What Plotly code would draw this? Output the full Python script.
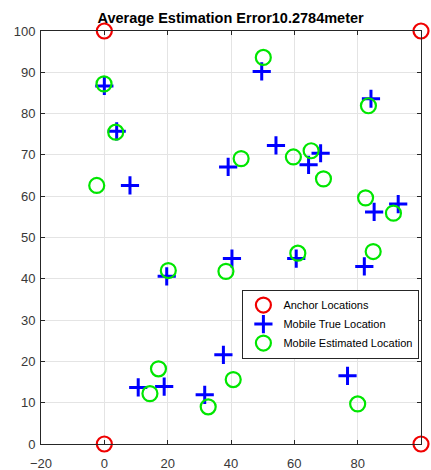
import plotly.graph_objects as go

# Anchor node positions (corners of the field)
anchor_x = [0, 0, 100, 100]
anchor_y = [0, 100, 0, 100]

# Mobile node true positions
true_x = [0.0, 3.9, 49.7, 84.2, 54.2, 68.3, 64.5, 39.1, 8.1, 85.2,
          92.8, 40.3, 60.6, 82.1, 19.7, 37.6, 10.7, 18.9, 31.7, 76.8]
true_y = [86.7, 75.7, 90.2, 83.6, 72.3, 70.4, 67.6, 67.1, 62.6, 56.2,
          58.1, 44.9, 44.9, 43.0, 40.6, 21.6, 13.7, 13.9, 11.9, 16.5]

# Mobile node estimated positions
est_x = [-0.1, 3.6, 50.2, 83.4, 43.2, 59.7, 65.3, 69.2, -2.4, 82.5,
         91.3, 84.9, 61.1, 38.4, 20.2, 17.1, 14.4, 32.8, 40.7, 80.0]
est_y = [87.2, 75.5, 93.6, 81.9, 69.1, 69.5, 71.0, 64.2, 62.6, 59.6,
         55.9, 46.6, 46.2, 41.8, 42.0, 18.2, 12.2, 9.0, 15.6, 9.7]

avg_error = 10.2784

x_ticks = [-20, 0, 20, 40, 60, 80, 100]
y_ticks = [0, 10, 20, 30, 40, 50, 60, 70, 80, 90, 100]

fig = go.Figure()
fig.add_trace(go.Scatter(
    x=anchor_x, y=anchor_y, mode="markers", name="Anchor Locations",
    marker=dict(symbol="circle-open", size=15, color="#f00000",
                line=dict(width=2.2, color="#f00000")),
    cliponaxis=False))
fig.add_trace(go.Scatter(
    x=true_x, y=true_y, mode="markers", name="Mobile True Location",
    marker=dict(symbol="cross-thin-open", size=13, color="#0000ff",
                line=dict(width=3, color="#0000ff")),
    cliponaxis=False))
fig.add_trace(go.Scatter(
    x=est_x, y=est_y, mode="markers", name="Mobile Estimated Location",
    marker=dict(symbol="circle-open", size=15, color="#00e600",
                line=dict(width=2.2, color="#00e600")),
    cliponaxis=False))

axis_common = dict(
    showgrid=True, gridcolor="#e4e4e4", gridwidth=1,
    showline=True, linecolor="#262626", linewidth=1, mirror="ticks",
    ticks="inside", ticklen=4, tickcolor="#262626",
    zeroline=False, automargin=False,
    tickfont=dict(family="Liberation Sans", size=13, color="#383838"),
)

fig.update_layout(
    width=431, height=470,
    margin=dict(l=41, r=10, t=31, b=26),
    paper_bgcolor="white", plot_bgcolor="white",
    title=dict(text=f"<b>Average Estimation Error{avg_error}meter</b>",
               x=0.535, xanchor="center", y=0.962, yanchor="middle",
               font=dict(family="Liberation Sans", size=14.5,
                         color="#000000")),
    xaxis=dict(range=[-20, 100], tickvals=x_ticks, ticklabelstandoff=7,
               **axis_common),
    yaxis=dict(range=[0, 100], tickvals=y_ticks, ticklabelstandoff=2,
               **axis_common),
    legend=dict(x=0.53, y=0.374, xanchor="left", yanchor="top",
                bgcolor="white", bordercolor="#262626", borderwidth=1,
                font=dict(family="Liberation Sans", size=11,
                          color="#000000"),
                tracegroupgap=0, itemwidth=30),
    showlegend=True,
)

fig.write_html("out.html")
